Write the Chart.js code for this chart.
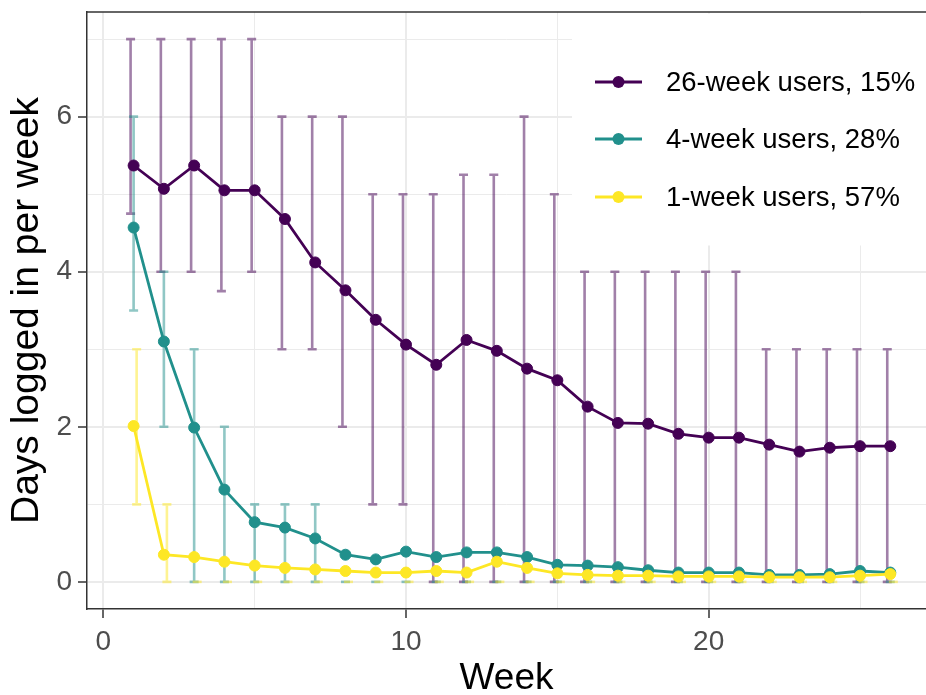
<!DOCTYPE html>
<html>
<head>
<meta charset="utf-8">
<script src="https://cdn.jsdelivr.net/npm/chart.js@4.4.1/dist/chart.umd.min.js"></script>
<style>
  html, body { margin: 0; padding: 0; background: #fff; overflow: hidden; }
  canvas { display: block; }
</style>
</head>
<body>
<canvas id="chart" width="926" height="695"></canvas>
<script>
// weeks on the x axis
const weeks = [1, 2, 3, 4, 5, 6, 7, 8, 9, 10, 11, 12, 13, 14, 15, 16, 17, 18, 19, 20, 21, 22, 23, 24, 25, 26];

// 26-week users (mean, lower / upper error bar)
const mean26 = [5.37, 5.07, 5.37, 5.05, 5.05, 4.68, 4.12, 3.76, 3.38, 3.06, 2.80, 3.12, 2.98, 2.75, 2.60, 2.26, 2.05, 2.04, 1.91, 1.86, 1.86, 1.77, 1.68, 1.73, 1.75, 1.75];
const low26  = [4.75, 4, 4, 3.75, 4, 3, 3, 2, 1, 1, 0, 0, 0, 0, 0, 0, 0, 0, 0, 0, 0, 0, 0, 0, 0, 0];
const high26 = [7, 7, 7, 7, 7, 6, 6, 6, 5, 5, 5, 5.25, 5.25, 6, 5, 4, 4, 4, 4, 4, 4, 3, 3, 3, 3, 3];

// 4-week users
const mean4 = [4.57, 3.10, 1.99, 1.19, 0.77, 0.70, 0.56, 0.35, 0.29, 0.39, 0.32, 0.38, 0.38, 0.32, 0.22, 0.21, 0.19, 0.15, 0.12, 0.12, 0.12, 0.09, 0.09, 0.10, 0.14, 0.12];
const low4  = [3.5, 2, 0, 0, 0, 0, 0, 0, 0, 0, 0, 0, 0, 0, 0, 0, 0, 0, 0, 0, 0, 0, 0, 0, 0, 0];
const high4 = [6, 4, 3, 2, 1, 1, 1, 0, 0, 0, 0, 0, 0, 0, 0, 0, 0, 0, 0, 0, 0, 0, 0, 0, 0, 0];

// 1-week users
const mean1 = [2.01, 0.35, 0.32, 0.26, 0.21, 0.18, 0.16, 0.14, 0.12, 0.12, 0.14, 0.12, 0.26, 0.18, 0.11, 0.09, 0.08, 0.08, 0.07, 0.07, 0.07, 0.06, 0.06, 0.06, 0.08, 0.10];
const low1  = [1, 0, 0, 0, 0, 0, 0, 0, 0, 0, 0, 0, 0, 0, 0, 0, 0, 0, 0, 0, 0, 0, 0, 0, 0, 0];
const high1 = [3, 1, 0, 0, 0, 0, 0, 0, 0, 0, 0, 0, 0, 0, 0, 0, 0, 0, 0, 0, 0, 0, 0, 0, 0, 0];

const seriesLabels = ['26-week users, 15%', '4-week users, 28%', '1-week users, 57%'];

// ticks: majors get a label, minors only a light grid line
const xMajorTicks = [0, 10, 20];
const xMinorTicks = [5, 15, 25];
const yMajorTicks = [0, 2, 4, 6];
const yMinorTicks = [1, 3, 5, 7];

const FONT = "'Liberation Sans', Arial, sans-serif";
const colors = ['#440154', '#21908C', '#FDE725'];
const barColors = ['rgba(68,1,84,0.5)', 'rgba(33,144,140,0.5)', 'rgba(253,231,37,0.5)'];
const dodge = [-0.1, 0, 0.1]; // errorbars are shifted a bit like position_dodge

const series = [
    { label: seriesLabels[0], mean: mean26, low: low26, high: high26 },
    { label: seriesLabels[1], mean: mean4, low: low4, high: high4 },
    { label: seriesLabels[2], mean: mean1, low: low1, high: high1 },
];

const toPoints = arr => weeks.map((w, i) => ({ x: w, y: arr[i] }));

// error bars go under the lines
const errorBarPlugin = {
    id: 'errorBars',
    beforeDatasetsDraw(chart) {
        const { ctx, chartArea, scales: { x, y } } = chart;
        ctx.save();
        ctx.beginPath();
        ctx.rect(chartArea.left, chartArea.top, chartArea.right - chartArea.left, chartArea.bottom - chartArea.top);
        ctx.clip();
        ctx.lineWidth = 2.6;
        series.forEach((s, k) => {
            ctx.strokeStyle = barColors[k];
            weeks.forEach((w, i) => {
                const px = x.getPixelForValue(w + dodge[k]);
                const top = y.getPixelForValue(s.high[i]);
                const bot = y.getPixelForValue(s.low[i]);
                const cap = 4.5;
                ctx.beginPath();
                ctx.moveTo(px, top); ctx.lineTo(px, bot);
                ctx.moveTo(px - cap, top); ctx.lineTo(px + cap, top);
                if (bot !== top) { ctx.moveTo(px - cap, bot); ctx.lineTo(px + cap, bot); }
                ctx.stroke();
            });
        });
        ctx.restore();
    }
};

// legend sits inside the panel on a white box, plus the top panel border
const panelLegendPlugin = {
    id: 'panelLegend',
    afterDraw(chart) {
        const { ctx, chartArea } = chart;
        ctx.save();
        ctx.fillStyle = '#fff';
        ctx.fillRect(572, chartArea.top + 1.5, chartArea.right - 572, 244 - chartArea.top);

        const rowY = [82, 139, 197];
        series.forEach((s, k) => {
            ctx.strokeStyle = colors[k];
            ctx.lineWidth = 2.8;
            ctx.beginPath();
            ctx.moveTo(595, rowY[k]); ctx.lineTo(642, rowY[k]);
            ctx.stroke();
            ctx.fillStyle = colors[k];
            ctx.beginPath();
            ctx.arc(618.5, rowY[k], 6, 0, Math.PI * 2);
            ctx.fill();
            ctx.fillStyle = '#000';
            ctx.font = '27.5px ' + FONT;
            ctx.textAlign = 'left';
            ctx.textBaseline = 'middle';
            ctx.fillText(s.label, 666, rowY[k] + 1);
        });

        // top border of panel
        ctx.strokeStyle = '#333';
        ctx.lineWidth = 1.5;
        ctx.beginPath();
        ctx.moveTo(chartArea.left, chartArea.top);
        ctx.lineTo(chartArea.right, chartArea.top);
        ctx.stroke();
        ctx.restore();
    }
};

const isXMajor = v => xMajorTicks.includes(v);
const isYMajor = v => yMajorTicks.includes(v);

const ctx = document.getElementById('chart').getContext('2d');
new Chart(ctx, {
    type: 'line',
    data: {
        datasets: series.map((s, k) => ({
            label: s.label,
            data: toPoints(s.mean),
            borderColor: colors[k],
            backgroundColor: colors[k],
            borderWidth: 2.8,
            pointRadius: 5.5,
            pointBorderWidth: 1,
            pointBorderColor: colors[k],
            pointBackgroundColor: colors[k],
            tension: 0,
            order: 2 - k, // yellow on top
        }))
    },
    options: {
        responsive: false,
        animation: false,
        layout: { autoPadding: false, padding: { top: 12, right: 0, bottom: 0, left: 0 } },
        plugins: {
            legend: { display: false },
            tooltip: { enabled: false },
        },
        scales: {
            x: {
                type: 'linear',
                min: -0.54,
                max: 27.18,
                afterBuildTicks(scale) {
                    scale.ticks = [...xMajorTicks, ...xMinorTicks].sort((a, b) => a - b).map(v => ({ value: v }));
                },
                afterFit(scale) {
                    scale.height = 86;
                    scale.paddingLeft = 0;
                    scale.paddingRight = 0;
                },
                ticks: {
                    autoSkip: false,
                    maxRotation: 0,
                    padding: 7,
                    color: '#4D4D4D',
                    font: { family: FONT, size: 28 },
                    callback: v => isXMajor(v) ? String(v) : '',
                },
                grid: {
                    color: '#EBEBEB',
                    lineWidth: c => isXMajor(c.tick.value) ? 2 : 1,
                    tickColor: c => isXMajor(c.tick.value) ? '#333' : 'rgba(0,0,0,0)',
                    tickLength: 9,
                    tickWidth: 1.5,
                },
                border: { display: true, color: '#333', width: 1.5 },
                title: {
                    display: true,
                    text: 'Week',
                    color: '#000',
                    font: { family: FONT, size: 37, lineHeight: 1 },
                    padding: { top: 0, bottom: -2 },
                },
            },
            y: {
                type: 'linear',
                min: -0.35,
                max: 7.35,
                afterBuildTicks(scale) {
                    scale.ticks = [...yMajorTicks, ...yMinorTicks].sort((a, b) => a - b).map(v => ({ value: v }));
                },
                afterFit(scale) {
                    scale.width = 87;
                    scale.paddingTop = 0;
                    scale.paddingBottom = 0;
                },
                ticks: {
                    autoSkip: false,
                    padding: 6,
                    color: '#4D4D4D',
                    font: { family: FONT, size: 28 },
                    callback: v => isYMajor(v) ? String(v) : '',
                },
                grid: {
                    color: '#EBEBEB',
                    lineWidth: c => isYMajor(c.tick.value) ? 2 : 1,
                    tickColor: c => isYMajor(c.tick.value) ? '#333' : 'rgba(0,0,0,0)',
                    tickLength: 9,
                    tickWidth: 1.5,
                },
                border: { display: true, color: '#333', width: 1.5 },
                title: {
                    display: true,
                    text: 'Days logged in per week',
                    color: '#000',
                    font: { family: FONT, size: 39, lineHeight: 1 },
                    padding: { top: 8, bottom: 0 },
                },
            },
        },
    },
    plugins: [errorBarPlugin, panelLegendPlugin],
});
</script>
</body>
</html>
